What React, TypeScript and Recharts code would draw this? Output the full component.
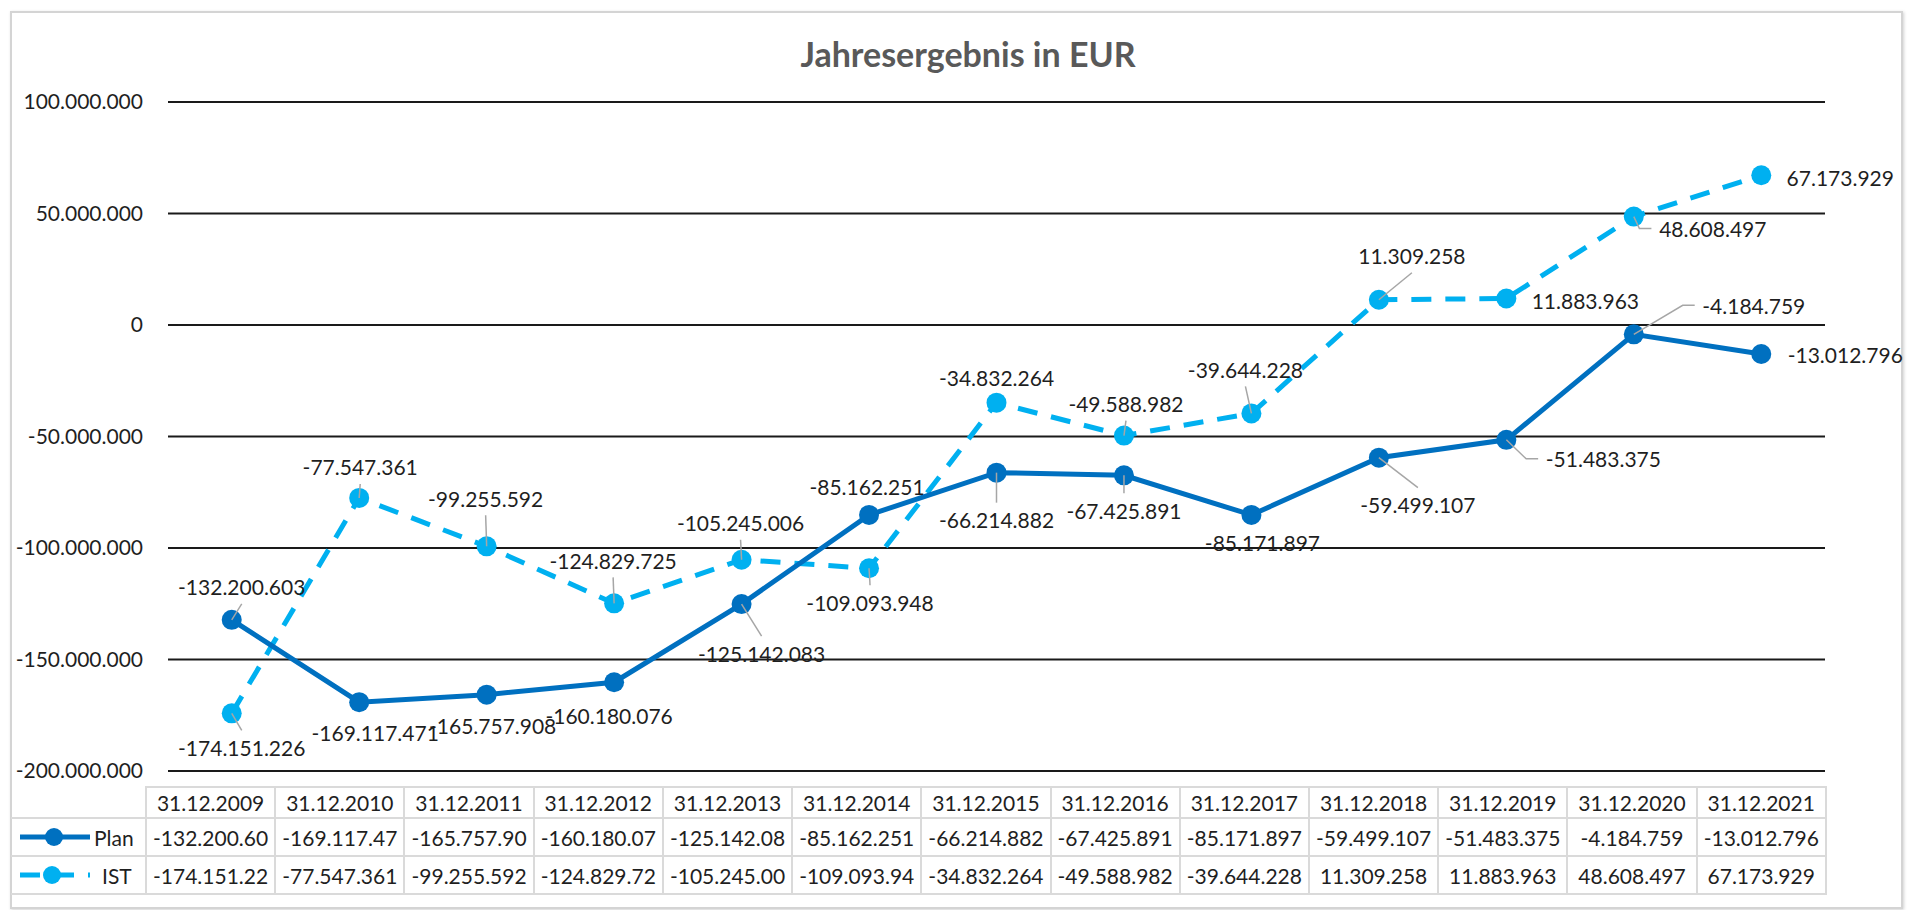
import { CartesianGrid, LabelList, Line, LineChart, XAxis, YAxis } from "recharts"

const categories = [
  "31.12.2009", "31.12.2010", "31.12.2011", "31.12.2012", "31.12.2013", "31.12.2014", "31.12.2015",
  "31.12.2016", "31.12.2017", "31.12.2018", "31.12.2019", "31.12.2020", "31.12.2021",
]

const planValues = [
  -132200603, -169117471, -165757908, -160180076, -125142083, -85162251, -66214882,
  -67425891, -85171897, -59499107, -51483375, -4184759, -13012796,
]

const istValues = [
  -174151226, -77547361, -99255592, -124829725, -105245006, -109093948, -34832264,
  -49588982, -39644228, 11309258, 11883963, 48608497, 67173929,
]

const yTicks = [100000000, 50000000, 0, -50000000, -100000000, -150000000, -200000000]

const seriesNames = ["Plan", "IST"]

// label placement (offset of the label centre from its point) – like the hand moved Excel labels
const planLabelPos = [
  [10, -33], [16, 30], [6, 31], [-5, 33], [20, 49], [-2, -28], [0, 47],
  [0, 35], [11, 28], [39, 47], [97, 19], [120, -29], [84, 0],
]
const istLabelPos = [
  [10, 34], [1, -31], [-1, -48], [-1, -43], [-1, -37], [1, 34], [0, -25],
  [2, -32], [-6, -44], [33, -44], [79, 2], [79, 12], [79, 2],
]
const planLeader = [true, false, false, false, true, false, true, true, false, true, true, true, false]
const istLeader = [true, true, true, true, true, true, false, true, true, true, false, true, false]

const PLAN = "#0070C0"
const IST = "#00B0F0"
const FONT = "Lato, 'Open Sans', sans-serif"
const TEXT = "#1f1f1f"

const chartData = categories.map((name, i) => ({
  name,
  plan: planValues[i],
  ist: istValues[i],
}))

const fmt = (v: number) => {
  const s = Math.abs(Math.round(v)).toString().replace(/\B(?=(\d{3})+(?!\d))/g, ".")
  return v < 0 ? "-" + s : s
}

// rough text width for 21px Lato
const textWidth = (s: string) =>
  s.split("").reduce((w, c) => w + (c === "." ? 4.6 : c === "-" ? 7.6 : 12.2), 0)

const makeLabel = (pos: number[][], leader: boolean[]) => (props: any) => {
  const { index, value } = props
  const x = props.x ?? props.viewBox?.x
  const y = props.y ?? props.viewBox?.y
  if (x == null || y == null || index == null) return null
  const [dx, dy] = pos[index]
  const cx = x + dx
  const cy = y + dy
  const text = fmt(value)
  const halfW = textWidth(text) / 2
  const halfH = 11
  let leaderEl = null
  if (leader[index]) {
    if (Math.abs(dx) > halfW) {
      const left = cx - halfW
      leaderEl = (
        <polyline
          points={`${x},${y} ${left - 20},${cy} ${left - 8},${cy}`}
          fill="none"
          stroke="#a6a6a6"
          strokeWidth={1.5}
        />
      )
    } else {
      const ey = dy < 0 ? cy + halfH + 6 : cy - halfH - 6
      leaderEl = <line x1={x} y1={y} x2={cx} y2={ey} stroke="#a6a6a6" strokeWidth={1.5} />
    }
  }
  return (
    <g>
      {leaderEl}
      <text
        x={cx}
        y={cy}
        textAnchor="middle"
        dominantBaseline="central"
        fontFamily={FONT}
        fontSize={21}
        fill={TEXT}
      >
        {text}
      </text>
    </g>
  )
}

const cellText = (v: number) => fmt(v).slice(0, 11)

function LegendKey({ dashed, color }: { dashed: boolean; color: string }) {
  return (
    <svg width={74} height={20} style={{ display: "block" }}>
      <line
        x1={2}
        y1={10}
        x2={72}
        y2={10}
        stroke={color}
        strokeWidth={5}
        strokeDasharray={dashed ? "20 14" : undefined}
      />
      <circle cx={dashed ? 34 : 36} cy={10} r={9} fill={color} />
    </svg>
  )
}

export default function App() {
  const colW = (1826 - 146) / categories.length
  const cell: React.CSSProperties = {
    border: "2px solid #dadada",
    textAlign: "center",
    whiteSpace: "nowrap",
    overflow: "hidden",
    padding: 0,
  }
  const rows = [
    { name: seriesNames[0], values: planValues, color: PLAN, dashed: false },
    { name: seriesNames[1], values: istValues, color: IST, dashed: true },
  ]

  return (
    <div style={{ position: "absolute", left: 0, top: 0, width: 1908, height: 910, background: "#fff", fontFamily: FONT }}>
      <div
        style={{
          position: "absolute",
          left: 10,
          top: 11,
          width: 1889,
          height: 894,
          border: "2px solid #d4d4d4",
          boxShadow: "1px 1px 3px rgba(0,0,0,0.18)",
        }}
      />
      <div
        style={{
          position: "absolute",
          left: 0,
          top: 34,
          width: 1936,
          textAlign: "center",
          fontSize: 34,
          fontWeight: 700,
          color: "#595959",
          lineHeight: "40px",
        }}
      >
        Jahresergebnis in EUR
      </div>

      <div style={{ position: "absolute", left: 0, top: 0 }}>
        <LineChart
          width={1908}
          height={800}
          data={chartData}
          margin={{ top: 102, right: 83, bottom: 29, left: 0 }}
        >
          <CartesianGrid vertical={false} stroke="#1a1a1a" strokeWidth={2} />
          <XAxis
            dataKey="name"
            hide
            padding={{ left: (1825 - 168) / 26, right: (1825 - 168) / 26 }}
          />
          <YAxis
            width={168}
            domain={[-200000000, 100000000]}
            ticks={yTicks}
            tickFormatter={fmt}
            axisLine={false}
            tickLine={false}
            tickSize={0}
            tickMargin={25}
            tick={{ fill: TEXT, fontSize: 21, fontFamily: FONT }}
          />
          <Line
            dataKey="ist"
            stroke={IST}
            strokeWidth={5}
            strokeDasharray="20 14"
            dot={{ r: 10, fill: IST, stroke: IST, strokeWidth: 0 }}
            isAnimationActive={false}
          >
            <LabelList dataKey="ist" content={makeLabel(istLabelPos, istLeader)} />
          </Line>
          <Line
            dataKey="plan"
            stroke={PLAN}
            strokeWidth={5}
            dot={{ r: 10, fill: PLAN, stroke: PLAN, strokeWidth: 0 }}
            isAnimationActive={false}
          >
            <LabelList dataKey="plan" content={makeLabel(planLabelPos, planLeader)} />
          </Line>
        </LineChart>
      </div>

      <table
        style={{
          position: "absolute",
          left: 11,
          top: 786,
          borderCollapse: "collapse",
          tableLayout: "fixed",
          fontSize: 21,
          color: TEXT,
          fontFamily: FONT,
        }}
      >
        <colgroup>
          <col style={{ width: 135 }} />
          {categories.map((c) => (
            <col key={c} style={{ width: colW }} />
          ))}
        </colgroup>
        <tbody>
          <tr style={{ height: 31 }}>
            <td style={{ padding: 0 }} />
            {categories.map((c) => (
              <td key={c} style={cell}>{c}</td>
            ))}
          </tr>
          {rows.map((r) => (
            <tr key={r.name} style={{ height: 38 }}>
              <td style={{ ...cell, borderLeft: "none", textAlign: "left" }}>
                <div style={{ display: "flex", alignItems: "center", paddingLeft: 7 }}>
                  <LegendKey dashed={r.dashed} color={r.color} />
                  <span style={{ marginLeft: r.dashed ? 10 : 2 }}>{r.name}</span>
                </div>
              </td>
              {r.values.map((v, i) => (
                <td key={i} style={cell}>{cellText(v)}</td>
              ))}
            </tr>
          ))}
        </tbody>
      </table>
    </div>
  )
}
